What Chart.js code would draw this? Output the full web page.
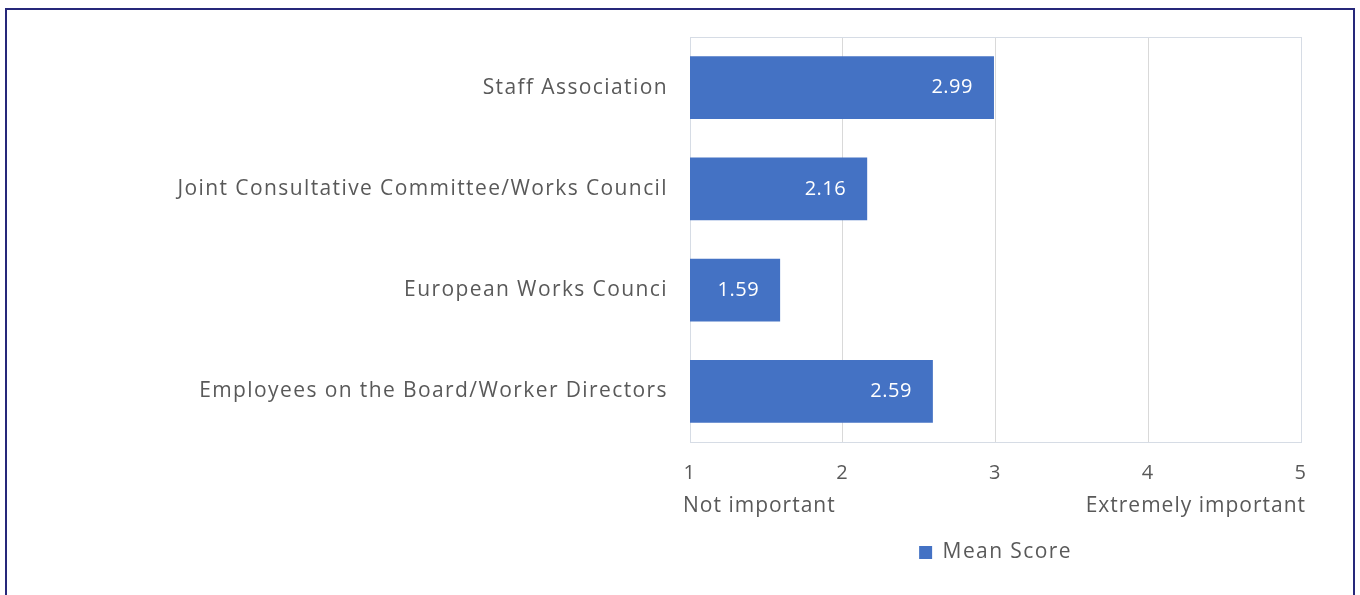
<!DOCTYPE html>
<html>
<head>
<meta charset="utf-8">
<script src="https://cdn.jsdelivr.net/npm/chart.js@4"></script>
<style>
  html, body { margin: 0; padding: 0; background: #fff; overflow: hidden; }
  #frame { position: absolute; left: 5px; top: 8px; width: 1350px; height: 620px;
           border: 2px solid #26287a; box-sizing: border-box; }
  #wrap { position: absolute; left: 0; top: 0; width: 1360px; height: 595px; }
</style>
</head>
<body>
<div id="frame"></div>
<div id="wrap"><canvas id="myChart" width="1360" height="595"></canvas></div>
<script>
const categories = ['Staff Association', 'Joint Consultative Committee/Works Council', 'European Works Counci', 'Employees on the Board/Worker Directors'];
const meanScores = [2.99, 2.16, 1.59, 2.59];
const tickValues = [1, 2, 3, 4, 5];
const scaleEnds = { 1: 'Not important', 5: 'Extremely important' };

const barColor = '#4472C4';
const textColor = '#595959';
const fontFamily = "'Open Sans', 'Noto Sans', sans-serif";
const fontSize = 21;
const spacing = '1.4px'; // the reference text is quite wide

// wider letter spacing on the whole canvas
const spacer = {
    id: 'spacer',
    beforeLayout(chart) { chart.ctx.letterSpacing = spacing; },
    beforeDraw(chart) { chart.ctx.letterSpacing = spacing; }
};

// white values at the end of each bar
const valueLabels = {
    id: 'valueLabels',
    afterDatasetsDraw(chart) {
        const ctx = chart.ctx;
        const meta = chart.getDatasetMeta(0);
        ctx.save();
        ctx.fillStyle = '#fff';
        ctx.font = '20px ' + fontFamily;
        ctx.letterSpacing = '0.5px';
        ctx.textAlign = 'right';
        ctx.textBaseline = 'middle';
        meta.data.forEach((bar, i) => {
            ctx.fillText(meanScores[i].toFixed(2), bar.x - 21, bar.y);
        });
        ctx.restore();
    }
};

// plot frame + "Not important" / "Extremely important" under the axis
const extras = {
    id: 'extras',
    beforeDatasetsDraw(chart) {
        const { ctx, chartArea: a } = chart;
        ctx.save();
        ctx.strokeStyle = '#D6DCE5';
        ctx.lineWidth = 1;
        ctx.strokeRect(a.left + 0.5, a.top + 0.5, a.right - a.left, a.bottom - a.top);
        ctx.restore();
    },
    afterDraw(chart) {
        const { ctx } = chart;
        const x = chart.scales.x;
        ctx.save();
        ctx.fillStyle = textColor;
        ctx.font = fontSize + 'px ' + fontFamily;
        ctx.letterSpacing = '1px';
        ctx.textBaseline = 'middle';
        const y = chart.chartArea.bottom + 64;
        ctx.textAlign = 'left';
        ctx.fillText(scaleEnds[1], x.getPixelForValue(1) - 7, y);
        ctx.textAlign = 'right';
        ctx.fillText(scaleEnds[5], x.getPixelForValue(5) + 5, y);
        ctx.restore();
    }
};

const ctx = document.getElementById('myChart').getContext('2d');
const myChart = new Chart(ctx, {
    type: 'bar',
    data: {
        labels: categories,
        datasets: [{
            label: 'Mean Score',
            data: meanScores,
            backgroundColor: barColor,
            borderWidth: 0,
            categoryPercentage: 0.62,
            barPercentage: 1
        }]
    },
    options: {
        indexAxis: 'y',
        responsive: false,
        animation: false,
        layout: { padding: { top: 37, right: 59, bottom: 22, left: 0 } },
        scales: {
            x: {
                min: 1,
                max: 5,
                afterBuildTicks(scale) { scale.ticks = tickValues.map(v => ({ value: v })); },
                afterFit(scale) { scale.height = 90; },
                grid: { color: '#D9D9D9', drawTicks: false },
                border: { color: '#D6DCE5' },
                ticks: { color: textColor, font: { family: fontFamily, size: 20 }, padding: 19 }
            },
            y: {
                afterFit(scale) { scale.width = 690; },
                grid: { display: false },
                border: { color: '#D9D9D9' },
                ticks: { color: textColor, font: { family: fontFamily, size: fontSize }, padding: 14 }
            }
        },
        plugins: {
            legend: {
                display: true,
                position: 'bottom',
                fullSize: false,
                labels: {
                    color: textColor,
                    font: { family: fontFamily, size: fontSize },
                    boxWidth: 13,
                    boxHeight: 13,
                    padding: 10
                }
            },
            tooltip: { enabled: false }
        }
    },
    plugins: [spacer, valueLabels, extras]
});
</script>
</body>
</html>
